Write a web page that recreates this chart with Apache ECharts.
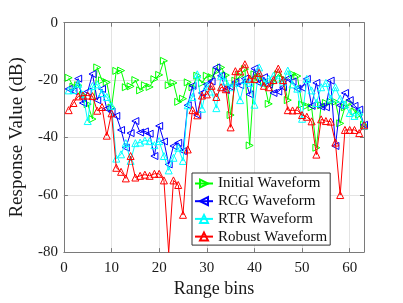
<!DOCTYPE html>
<html>
<head>
<meta charset="utf-8">
<script src="https://cdn.jsdelivr.net/npm/echarts@6/dist/echarts.min.js"></script>
<style>html,body{margin:0;padding:0;background:#fff}#c{width:403px;height:303px}</style>
</head>
<body>
<div id="c"></div>
<script>
var bins = [1,2,3,4,5,6,7,8,9,10,11,12,13,14,15,16,17,18,19,20,21,22,23,24,25,26,27,28,29,30,31,32,33,34,35,36,37,38,39,40,41,42,43,44,45,46,47,48,49,50,51,52,53,54,55,56,57,58,59,60,61,62,63];
var xTicks = [0,10,20,30,40,50,60];
var yTicks = [-80,-60,-40,-20,0];
var initialWave = [-19.2,-22.3,-21.8,-25.2,-28.4,-33.6,-15.6,-20.1,-20.8,-29.6,-16.8,-16.7,-22.5,-22.2,-20,-23.6,-21.8,-22.4,-19.7,-18.2,-13.3,-21.8,-21,-27.6,-26.5,-20.8,-22.5,-18.5,-21.1,-18.5,-19,-17,-15.6,-18.3,-32.2,-20.2,-18.5,-16.2,-42.8,-18,-19,-20.5,-28.3,-20.8,-18,-19.5,-27,-17.9,-18.6,-28.5,-29,-29.5,-43.6,-28.8,-28,-27.6,-27.6,-35.1,-29.5,-28,-31,-32.1,-35.6];
var rcgWave = [-23.1,-23.8,-19.5,-28,-24,-17.9,-27,-23.1,-30,-31,-32.5,-37.4,-43.6,-38.5,-34.3,-38.3,-37.9,-38.7,-46.5,-36,-41.4,-49.4,-43,-41.9,-44.8,-28.8,-22,-32.2,-24.5,-21.5,-20.5,-15.6,-18.5,-23.5,-22.4,-20.7,-21.8,-19.5,-25,-16,-21,-19,-21.5,-24.5,-24,-22.5,-19.5,-20.5,-23,-22.7,-19.6,-29,-21,-29.3,-29.5,-20.2,-43,-28.8,-24.5,-27,-29,-30.3,-35.6];
var rtrWave = [-23.6,-23.5,-21.3,-25,-34.3,-22.1,-21.5,-24.5,-25.9,-29,-47.4,-45.9,-42,-48.2,-42,-41.8,-41.1,-41.3,-42.7,-41.3,-46.5,-51.5,-47.1,-43.6,-48.2,-28.8,-25.9,-18,-30,-22,-24,-29.8,-18.5,-20.5,-22.5,-21,-27,-20,-21,-28.6,-15.6,-21,-19.5,-18.5,-19.5,-20.6,-16.7,-21.5,-23,-33.5,-19.6,-23.6,-28,-22.5,-21,-26.5,-22.5,-26.5,-28.5,-31.5,-32.5,-31,-36];
var robustWave = [-30.5,-28,-25.7,-25.4,-25.4,-25.6,-30.7,-29.4,-39.4,-31.6,-50.6,-52,-54.3,-46.5,-54,-53.4,-53,-53.4,-52.7,-52.7,-55,-80.2,-55,-56.6,-67,-44.2,-30.5,-32.3,-25.4,-25,-22,-25.9,-22.5,-23.2,-36.5,-16.9,-17,-14.5,-19.5,-19.6,-17.5,-22,-22.5,-20,-16,-20,-30.5,-30.6,-30.5,-32.2,-32.8,-34.4,-46,-33.7,-34.3,-34.5,-41.8,-60.1,-37.4,-37.4,-37.4,-38.5,-35.8];
var names = ['Initial Waveform','RCG Waveform','RTR Waveform','Robust Waveform'];
var colors = ['#00ff00','#0000ff','#00ffff','#ff0000'];
var rotations = [-90, 90, 0, 0];
var values = [initialWave, rcgWave, rtrWave, robustWave];

var FONT = "'Liberation Serif','Times New Roman',serif";
var axisCol = '#7a7a7a';
function pairs(v){ return bins.map(function(b,i){ return [b, v[i]]; }); }
function xAx(pos, show){
  return {type:'value', position:pos, min:0, max:63, interval:10,
    axisLine:{show:true, onZero:false, lineStyle:{color:axisCol, width:1}},
    axisTick:{show:true, inside:true, length:4, lineStyle:{color:axisCol}},
    axisLabel:{show:show, margin:8, showMaxLabel:false, color:'#1a1a1a', fontFamily:FONT, fontSize:15,
      formatter:function(v){ return xTicks.indexOf(v)>=0 ? String(v) : ''; }},
    splitLine:{show:show, lineStyle:{color:'#e3e3e3', width:1}},
    name: show ? 'Range bins' : '', nameLocation:'middle', nameGap:26,
    nameTextStyle:{fontFamily:FONT, fontSize:18, color:'#1a1a1a'}};
}
function yAx(pos, show){
  return {type:'value', position:pos, min:-80, max:0, interval:20,
    axisLine:{show:true, onZero:false, lineStyle:{color:axisCol, width:1}},
    axisTick:{show:true, inside:true, length:4, lineStyle:{color:axisCol}},
    axisLabel:{show:show, margin:6, color:'#1a1a1a', fontFamily:FONT, fontSize:15,
      formatter:function(v){ return yTicks.indexOf(v)>=0 ? String(v) : ''; }},
    splitLine:{show:show, lineStyle:{color:'#e3e3e3', width:1}},
    name: show ? 'Response Value (dB)' : '', nameLocation:'middle', nameGap:29,
    nameTextStyle:{fontFamily:FONT, fontSize:19, color:'#1a1a1a'}};
}
var series = values.map(function(v, k){
  return {name:names[k], type:'line', data:pairs(v), xAxisIndex:0, yAxisIndex:0,
    symbol:'triangle', symbolSize:7, symbolRotate:rotations[k], showAllSymbol:true,
    lineStyle:{color:colors[k], width:1},
    itemStyle:{color:'rgba(255,255,255,0)', borderColor:colors[k], borderWidth:1},
    emphasis:{disabled:true}, z:2+k};
});
var chart = echarts.init(document.getElementById('c'), null, {renderer:'canvas'});
chart.setOption({
  animation:false,
  backgroundColor:'#fff',
  grid:{left:52.7, right:39, top:22.7, bottom:47, containLabel:false},
  xAxis:[xAx('bottom', true), xAx('top', false)],
  yAxis:[yAx('left', true), yAx('right', false)],
  legend:{orient:'vertical', left:192, top:173, data:names,
    backgroundColor:'#fff', borderColor:'#333', borderWidth:1,
    padding:[3,3,1,2], itemGap:2.7, itemWidth:18, itemHeight:10,
    textStyle:{fontFamily:FONT, fontSize:15, color:'#111', lineHeight:15}},
  series:series
});
</script>
</body>
</html>
